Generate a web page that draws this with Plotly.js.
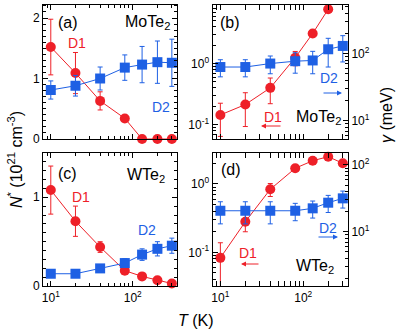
<!DOCTYPE html>
<html>
<head>
<meta charset="utf-8">
<script src="https://cdn.plot.ly/plotly-3.0.1.min.js"></script>
<style>
  html, body { margin: 0; padding: 0; background: #fff; }
  #chart { width: 399px; height: 331px; }
</style>
</head>
<body>
<div id="chart"></div>
<script>
// temperatures (K), same for all panels
let T = [10, 20, 40, 80, 130, 200, 300];

// (a) MoTe2, N* linear
let aD1 = [1.52, 1.09, 0.63, 0.34, 0, 0, 0];
let aD1err = [0.46, 0.34, 0.15, 0, 0, 0, 0];
let aD2 = [0.81, 0.88, 1.0, 1.18, 1.23, 1.27, 1.26];
let aD2err = [0.15, 0.17, 0.19, 0.21, 0.30, 0.35, 0.39];

// (b) MoTe2, D1 left log axis, D2 gamma right axis
let bD1 = [0.144, 0.213, 0.40, 1.25, 3.12, 7.76, null];
let bD1err = [0.08, 0.12, 0.18, 0.33, 0, 0, 0];
let bD2 = [63, 63, 71, 77, 79, 116, 130];
let bD2err = [18, 18, 21, 26, 29, 53, 55];

// (c) WTe2, N* linear
let cD1 = [1.08, 0.73, 0.44, 0.175, 0.11, 0.067, 0.03];
let cD1err = [0.27, 0.17, 0.06, 0, 0, 0, 0];
let cD2 = [0.14, 0.14, 0.2, 0.26, 0.355, 0.42, 0.455];
let cD2err = [0, 0, 0, 0.05, 0.065, 0.08, 0.085];

// (d) WTe2
let dD1 = [0.083, 0.28, 0.836, 1.70, 2.19, 2.51, 2.01];
let dD1err = [0.055, 0.08, 0.18, 0, 0, 0, 0];
let dD2 = [20.6, 20.6, 20.6, 20.6, 22.4, 27.2, 31.6];
let dD2err = [7.5, 7.5, 7.5, 6, 6.4, 7.8, 9];

// tick labels
let xTickVals = [10, 100];
let xTickText = ["10<sup>1</sup>", "10<sup>2</sup>"];
let nLogVals = [0.1, 1];
let nLogText = ["10<sup>-1</sup>", "10<sup>0</sup>"];
let gVals = [10, 100];
let gText = ["10<sup>1</sup>", "10<sup>2</sup>"];

let red = "rgb(238,32,40)";
let blue = "rgb(30,96,228)";
let font = "Liberation Sans, Arial, sans-serif";

function d1(x, y, err, xa, ya) {
  return {
    x: x, y: y, xaxis: xa, yaxis: ya, type: "scatter", mode: "lines+markers",
    cliponaxis: false,
    line: {color: red, width: 1},
    marker: {symbol: "circle", size: 10, color: red},
    error_y: {type: "data", array: err, color: red, thickness: 1, width: 2.5},
    showlegend: false
  };
}
function d2(x, y, err, xa, ya) {
  return {
    x: x, y: y, xaxis: xa, yaxis: ya, type: "scatter", mode: "lines+markers",
    cliponaxis: false,
    line: {color: blue, width: 1},
    marker: {symbol: "square", size: 10, color: blue},
    error_y: {type: "data", array: err, color: blue, thickness: 1, width: 2.5},
    showlegend: false
  };
}

let traces = [
  d1(T, aD1, aD1err, "x", "y"),
  d2(T, aD2, aD2err, "x", "y"),
  d1(T, bD1, bD1err, "x2", "y2"),
  d2(T, bD2, bD2err, "x2", "y3"),
  d1(T, cD1, cD1err, "x3", "y4"),
  d2(T, cD2, cD2err, "x3", "y4"),
  d1(T, dD1, dD1err, "x4", "y5"),
  d2(T, dD2, dD2err, "x4", "y6")
];

// pixel -> paper helpers (margins are zero)
function px(x) { return x / 399; }
function py(y) { return 1 - y / 331; }

let colL = [px(43), px(177)];
let colR = [px(212.5), px(348)];
let rowT = [py(139), py(4.7)];
let rowB = [py(286.2), py(152.7)];

function xax(domain, anchor, labels) {
  return {
    domain: domain, anchor: anchor, type: "log", range: [0.905, 2.54],
    showline: true, linecolor: "#000", linewidth: 1, mirror: "allticks",
    ticks: "inside", ticklen: 5, tickcolor: "#000",
    tickmode: "array", tickvals: xTickVals, ticktext: xTickText,
    showticklabels: labels, showgrid: false, zeroline: false,
    tickfont: {size: 12, color: "#000"},
    minor: {ticks: "inside", ticklen: 3, tickcolor: "#000", dtick: "D1", showgrid: false}
  };
}
function linY(domain, anchor, range, vals) {
  return {
    domain: domain, anchor: anchor, range: range,
    showline: true, linecolor: "#000", linewidth: 1, mirror: "allticks",
    ticks: "inside", ticklen: 5, tickcolor: "#000",
    tickmode: "array", tickvals: vals,
    showgrid: false, zeroline: false, tickfont: {size: 12, color: "#000"},
    minor: {ticks: "inside", ticklen: 3, tickcolor: "#000", dtick: 0.1, showgrid: false}
  };
}
function logY(domain, anchor, range, vals, text, side, overlay) {
  let a = {
    domain: domain, anchor: anchor, type: "log", range: range, side: side,
    showline: true, linecolor: "#000", linewidth: 1, mirror: false,
    ticks: "inside", ticklen: 5, tickcolor: "#000",
    tickmode: "array", tickvals: vals, ticktext: text,
    showgrid: false, zeroline: false, tickfont: {size: 12, color: "#000"},
    minor: {ticks: "inside", ticklen: 3, tickcolor: "#000", dtick: "D1", showgrid: false}
  };
  if (overlay) a.overlaying = overlay;
  return a;
}

function txt(x, y, s, color, size) {
  return {xref: "paper", yref: "paper", x: px(x), y: py(y), text: s, showarrow: false,
          xanchor: "center", yanchor: "middle",
          font: {family: font, size: size, color: color}};
}
function arrow(x, y, dx, color) {
  return {xref: "paper", yref: "paper", x: px(x), y: py(y), ax: dx, ay: 0, text: "",
          showarrow: true, arrowhead: 2, arrowsize: 1, arrowwidth: 1, arrowcolor: color};
}

let layout = {
  width: 399, height: 331,
  margin: {l: 0, r: 0, t: 0, b: 0},
  paper_bgcolor: "#fff", plot_bgcolor: "#fff",
  font: {family: font, color: "#000"},
  showlegend: false,
  xaxis: xax(colL, "y", false),
  yaxis: linY(rowT, "x", [0, 2.22], [0, 1, 2]),
  xaxis2: xax(colR, "y2", false),
  yaxis2: logY(rowT, "x2", [-1.236, 0.965], nLogVals, nLogText, "left"),
  yaxis3: logY(rowT, "x2", [0.726, 2.729], gVals, gText, "right", "y2"),
  xaxis3: xax(colL, "y4", true),
  yaxis4: linY(rowB, "x3", [0, 1.5], [0, 1]),
  xaxis4: xax(colR, "y5", true),
  yaxis5: logY(rowB, "x4", [-1.496, 0.458], nLogVals, nLogText, "left"),
  yaxis6: logY(rowB, "x4", [0.183, 2.184], gVals, gText, "right", "y5"),
  annotations: [
    txt(68, 22, "(a)", "#000", 16),
    txt(147, 23, "MoTe<sub>2</sub>", "#000", 16),
    txt(77, 43, "D1", red, 14),
    txt(161, 107, "D2", blue, 14),

    txt(230, 23, "(b)", "#000", 16),
    txt(329, 78, "D2", blue, 14),
    arrow(342, 93, -20, blue),
    txt(273, 117, "D1", red, 14),
    arrow(261, 126, 21, red),
    txt(318, 118, "MoTe<sub>2</sub>", "#000", 16),

    txt(67, 173, "(c)", "#000", 16),
    txt(146, 175, "WTe<sub>2</sub>", "#000", 16),
    txt(81, 197, "D1", red, 14),
    txt(147, 230, "D2", blue, 14),

    txt(231, 169, "(d)", "#000", 16),
    txt(328, 228, "D2", blue, 14),
    arrow(338, 237, -21, blue),
    txt(248, 253, "D1", red, 14),
    arrow(241, 264, 19, red),
    txt(315, 266, "WTe<sub>2</sub>", "#000", 16),

    txt(196, 320, "<i>T</i> (K)", "#000", 16),
    {xref: "paper", yref: "paper", x: px(15), y: py(160), textangle: -90, showarrow: false,
     text: "<i>N</i><sup>*</sup> (10<sup>21</sup> cm<sup>-3</sup>)",
     xanchor: "center", yanchor: "middle", font: {family: font, size: 16, color: "#000"}},
    {xref: "paper", yref: "paper", x: px(386), y: py(115), textangle: -90, showarrow: false,
     text: "<i>γ</i> (meV)",
     xanchor: "center", yanchor: "middle", font: {family: font, size: 16, color: "#000"}}
  ]
};

Plotly.newPlot("chart", traces, layout, {staticPlot: true});
</script>
</body>
</html>
